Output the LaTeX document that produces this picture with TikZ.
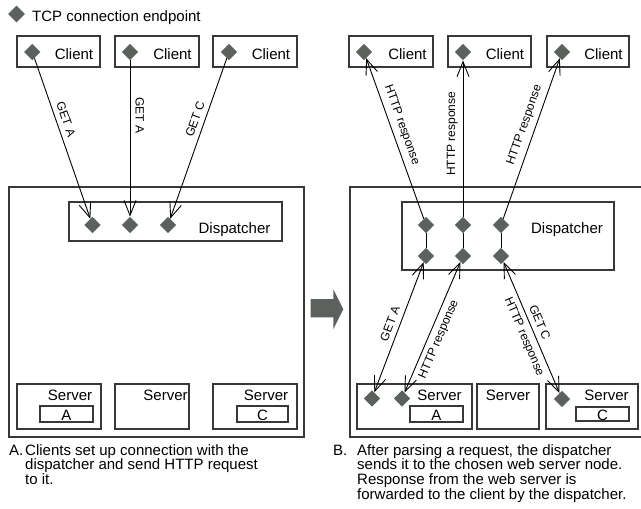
\documentclass[tikz,border=0pt]{standalone}
\usepackage{fontspec}
\setmainfont{Liberation Sans}
\usetikzlibrary{arrows.meta,shapes.geometric}
\definecolor{epgray}{HTML}{5C615E}
\definecolor{boxgray}{HTML}{383838}

\tikzset{
  box/.style={draw=boxgray,line width=1.1pt},
  ep/.style={shape=diamond,fill=epgray,inner sep=0pt,minimum width=16.5pt,minimum height=16.5pt},
  txt/.style={font=\fontsize{15}{15}\selectfont,inner sep=0pt,anchor=base},
  elab/.style={font=\fontsize{12}{12}\selectfont,inner sep=5pt,sloped},
  conn/.style={line width=0.9pt,draw=black},
  barb/.tip={Straight Barb[length=15pt,width=12pt]},
}

\begin{document}
\begin{tikzpicture}[x=1pt,y=-1pt]
\useasboundingbox (0,0) rectangle (641,509);

% legend
\node[ep,minimum width=17pt,minimum height=17pt] (leg) at (16.5,14) {};
\node[txt,anchor=base west] (legtxt) at (32,21.7) {TCP connection endpoint};

% ---------------- panel A ----------------
\draw[box] (17,36) rectangle (100,67);
\draw[box] (115,36) rectangle (199,67);
\draw[box] (213,36) rectangle (297,67);
\node[txt] (ca1) at (74,59.3) {Client};
\node[txt] (ca2) at (172.5,59.3) {Client};
\node[txt] (ca3) at (271,59.3) {Client};
\node[ep] (c1) at (32.3,52) {};
\node[ep] (c2) at (130,52) {};
\node[ep] (c3) at (229,52) {};

\draw[box] (9,187) rectangle (304,437);
\draw[box] (69,202) rectangle (282,241);
\node[txt] (dispA) at (234.5,233.3) {Dispatcher};
\node[ep] (d1) at (92.5,225) {};
\node[ep] (d2) at (130,225) {};
\node[ep] (d3) at (168,225) {};

\draw[box] (17,384) rectangle (101,429);
\draw[box] (115,384) rectangle (189,429);
\draw[box] (213,384) rectangle (297,429);
\node[txt] (sa1) at (70,400) {Server};
\node[txt] (sa2) at (165.5,400) {Server};
\node[txt] (sa3) at (266,400) {Server};
\draw[box] (40,406) rectangle (93,422);
\draw[box] (237,406) rectangle (288,422);
\node[txt] (sa1c) at (66.5,420.7) {A};
\node[txt] (sa3c) at (262.5,420.7) {C};

\draw[conn,-barb] (c1) -- (d1) node[elab,pos=0.4,above] {GET A};
\draw[conn,-barb] (c2) -- (d2) node[elab,pos=0.35,above] {GET A};
\draw[conn,-barb] (c3) -- (d3) node[elab,pos=0.4,above] {GET C};

\node[anchor=base west,inner sep=0pt,font=\fontsize{15}{14.8}\selectfont] (capAl) at (9,455) {A.};
\node[anchor=base west,inner sep=0pt] (capA) at (25,455)
  {\parbox[t]{270pt}{\fontsize{15}{14.8}\selectfont\raggedright
   Clients set up connection with the\\dispatcher and send HTTP request\\to it.}};

% transition arrow
\fill[epgray] (310.7,299) -- (333.3,299) -- (333.3,289.3) -- (343.3,309.3)
  -- (333.3,329.3) -- (333.3,317.3) -- (310.7,317.3) -- cycle;

% ---------------- panel B ----------------
\draw[box] (349,36) rectangle (433,67);
\draw[box] (448,36) rectangle (531,67);
\draw[box] (547,36) rectangle (629,67);
\node[txt] (cb1) at (407.5,59.3) {Client};
\node[txt] (cb2) at (505,59.3) {Client};
\node[txt] (cb3) at (603.5,59.3) {Client};
\node[ep] (rc1) at (364,52) {};
\node[ep] (rc2) at (463,52) {};
\node[ep] (rc3) at (562,52) {};

\draw[box] (350,187) rectangle (643,437);
\draw[box] (402,202) rectangle (614,270);
\node[txt] (dispB) at (567,233.3) {Dispatcher};
\node[ep] (u1) at (426,225) {};
\node[ep] (u2) at (463,225) {};
\node[ep] (u3) at (501,225) {};
\node[ep] (w1) at (426,256) {};
\node[ep] (w2) at (463,256) {};
\node[ep] (w3) at (501,256) {};
\draw[conn] (u1) -- (w1);
\draw[conn] (u2) -- (w2);
\draw[conn] (u3) -- (w3);

\draw[box] (357,384) rectangle (472,429);
\draw[box] (477,384) rectangle (539,429);
\draw[box] (546,384) rectangle (638,429);
\node[txt] (sb1) at (439.5,400) {Server};
\node[txt] (sb2) at (508,400) {Server};
\node[txt] (sb3) at (606.5,400) {Server};
\draw[box] (410,406) rectangle (463,422);
\draw[box] (576,407) rectangle (629,421);
\node[txt] (sb1c) at (436.5,420.7) {A};
\node[txt] (sb3c) at (602.5,420.7) {C};
\node[ep] (s1) at (372,398.5) {};
\node[ep] (s2) at (402,398.5) {};
\node[ep] (s3) at (562,399) {};

% responses back to the clients
\draw[conn,barb-] (rc1) -- (u1) node[elab,pos=0.44,above] {HTTP response};
\draw[conn,-barb] (u2) -- (rc2) node[elab,pos=0.53,above] {HTTP response};
\draw[conn,-barb] (u3) -- (rc3) node[elab,pos=0.56,above] {HTTP response};

% dispatcher <-> servers
\draw[conn,barb-barb] (s1) -- (w1) node[elab,pos=0.5,above] {GET A};
\draw[conn,barb-barb] (s2) -- (w2) node[elab,pos=0.44,below] {HTTP response};
\draw[conn,barb-barb] (w3) -- (s3)
  node[elab,pos=0.54,below] {HTTP response}
  node[elab,pos=0.49,above] {GET C};

\node[anchor=base west,inner sep=0pt,font=\fontsize{15}{14.8}\selectfont] (capBl) at (333,455) {B.};
\node[anchor=base west,inner sep=0pt] (capB) at (357,455)
  {\parbox[t]{290pt}{\fontsize{15}{14.8}\selectfont\raggedright
   After parsing a request, the dispatcher\\sends it to the chosen web server node.\\Response from the web server is\\forwarded to the client by the dispatcher.}};
\end{tikzpicture}
\end{document}
